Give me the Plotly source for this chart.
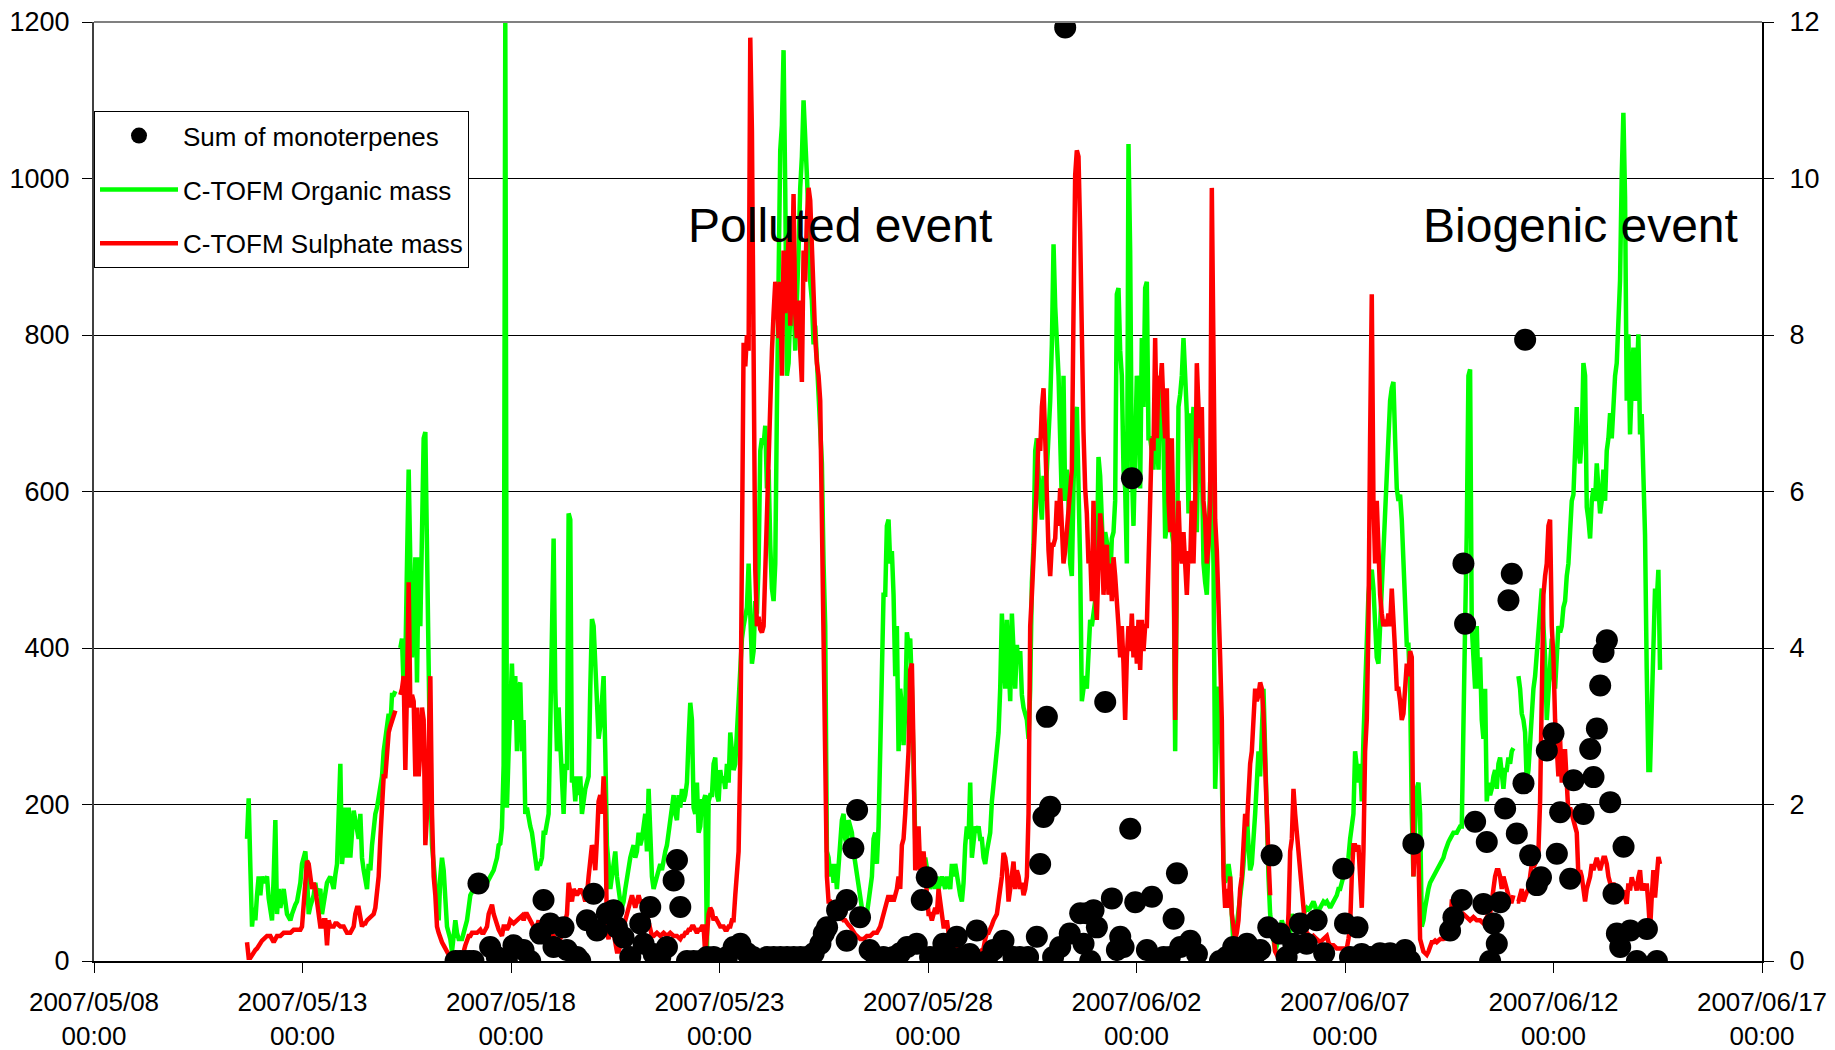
import pandas as pd
import plotly.graph_objects as go

# ---------------- data ----------------
# hourly-ish samples (one every ~57.5 min), split into consecutive segments
seg_start = ["2007-05-11 16:04", "2007-05-17 17:50", "2007-05-24 10:57",
             "2007-05-31 04:04", "2007-06-06 21:11", "2007-06-13 14:18"]
SAMPLE_SECONDS = 3453

organic_1 = [156, 208, 120, 44, 68, 52, 84, 108, 84, 108, 100, 104,
             108, 80, 68, 52, 108, 180, 60, 92, 68, 80, 92, 76,
             60, 56, 52, 60, 68, 72, 76, 90, 100, 124, 130, 140,
             108, 60, 70, 76, 84, 100, 84, 88, 92, 60, 76, 84,
             100, 104, 108, 100, 92, 110, 124, 188, 252, 124, 148, 196,
             132, 196, 132, 164, 192, 180, 164, 156, 188, 132, 116, 100,
             92, 124, 116, 148, 172, 188, 196, 212, 228, 236, 268, 284,
             308, 316, 300, 340, 340, 345, None, None, 400, 412, 348, 380,
             508, 628, 508, 388, 428, 516, 356, 516, 428, 564, 668, 676,
             492, 348, 228, 148, 124, 84, 68, 52, 108, 132, 116, 76,
             44, 36, 28, 12, 36, 52, 36, 28, 28, 28, 36, 44,
             52, 68, 84, 88, 92, 96, 100, 96, 92, 92, 92, 96,
             100, 104, 108, 112, 116, 124, 132, 148]
organic_2 = [150, 170, 250, 1200, 196, 268, 348, 380, 308, 364, 268, 348,
             356, 268, 308, 188, 196, 180, 172, 164, 148, 132, 116, 124,
             124, 132, 164, 164, 180, 188, 300, 428, 540, 348, 268, 324,
             268, 212, 188, 252, 244, 572, 564, 228, 236, 204, 236, 212,
             236, 188, 212, 220, 228, 236, 348, 437, 428, 380, 308, 284,
             300, 348, 364, 268, 148, 124, 92, 108, 132, 140, 108, 84,
             76, 68, 76, 92, 108, 116, 132, 140, 148, 132, 140, 164,
             148, 156, 172, 188, 140, 220, 164, 108, 92, 100, 108, 116,
             124, 116, 132, 140, 148, 164, 180, 188, 212, 188, 180, 212,
             196, 220, 204, 212, 228, 284, 330, 308, 196, 188, 228, 164,
             172, 204, 204, 212, 12, 204, 212, 212, 252, 260, 212, 204,
             244, 228, 236, 220, 252, 228, 292, 268, 244, 252, 292, 348,
             388, 412, 428, 444, 452, 508, 428, 380, 396, 460, 444, 508,
             652, 668, 660, 684, 604, 628, 532, 476, 460, 508, 708, 868]
organic_3 = [1036, 1068, 1164, 988, 748, 764, 828, 812, 844, 780, 828, 908,
             988, 1028, 1100, 1028, 1004, 948, 868, 844, 788, 812, 764, 732,
             668, 636, 508, 428, 140, 132, 108, 124, 100, 124, 92, 124,
             148, 180, 188, 156, 148, 180, 172, 164, 140, 124, 108, 92,
             76, 68, 60, 52, 60, 76, 92, 108, 156, 164, 124, 172,
             268, 388, 468, 468, 556, 564, 508, 524, 468, 364, 428, 268,
             348, 324, 276, 316, 420, 404, 412, 348, 228, 156, 148, 124,
             140, 124, 108, 132, 116, 108, 92, 100, 108, 92, 108, 92,
             100, 108, 100, 92, 108, 100, 92, 124, 108, 124, 108, 92,
             84, 76, 100, 148, 172, 156, 228, 132, 156, 172, 164, 172,
             156, 156, 132, 124, 140, 156, 164, 204, 228, 252, 268, 292,
             348, 444, 388, 348, 436, 388, 332, 444, 388, 348, 404, 380,
             396, 340, 324, 316, 308, 284, 348, 484, 532, 652, 668, 620,
             588, 564, 620, 588, 628, 668, 716, 788, 916, 836, 788, 748]
organic_4 = [668, 588, 748, 588, 628, 588, 508, 492, 604, 700, 708, 612,
             508, 332, 348, 364, 348, 388, 436, 428, 444, 460, 508, 644,
             620, 572, 508, 548, 532, 524, 484, 540, 548, 588, 852, 860,
             780, 748, 628, 604, 508, 1044, 908, 628, 556, 668, 748, 732,
             604, 796, 708, 860, 868, 668, 668, 652, 628, 708, 668, 628,
             748, 716, 668, 540, 556, 668, 564, 548, 532, 268, 508, 708,
             724, 748, 796, 748, 700, 572, 700, 668, 708, 604, 548, 668,
             628, 644, 508, 484, 468, 532, 612, 620, 508, 220, 268, 348,
             348, 180, 124, 100, 108, 124, 108, 60, 20, 28, 44, 68,
             76, 100, 124, 172, 188, 148, 116, 124, 148, 188, 228, 268,
             236, 308, 348, 268, 156, 108, 60, 44, 28, 12, 20, 28,
             36, 52, 44, 28, 44, 52, 36, 60, 52, 44, 52, 60,
             52, 44, 60, 64, 68, 66, 68, 72, 76, 70, 60, 64,
             68, 72, 76, 74, 76, 72, 68, 72, 76, 80, 84, 92]
organic_5 = [92, 100, 108, 116, 124, 132, 156, 172, 188, 268, 252, 228,
             252, 204, 284, 348, 388, 468, 492, 500, 476, 428, 388, 380,
             428, 492, 548, 588, 652, 684, 716, 732, 740, 668, 604, 588,
             596, 564, 508, 444, 404, 404, 348, 188, 108, 172, 220, 228,
             188, 44, 52, 68, 84, 92, 100, 104, 108, 112, 116, 120,
             124, 128, 132, 140, 148, 152, 156, 160, 164, 164, 164, 168,
             172, 172, 268, 428, 548, 748, 756, 428, 388, 348, 428, 348,
             388, 308, 284, 348, 204, 228, 212, 220, 236, 244, 220, 252,
             260, 236, 220, 244, 244, 260, 252, 268, 272, None, None, 364,
             348, 316, 308, 292, 228, 244, 284, 332, 348, 364, 388, 412,
             452, 476, 428, 388, 308, 348, 380, 412, 364, 348, 388, 428,
             420, 428, 452, 460, 492, 508, 548, 588, 596, 652, 708, 652,
             636, 668, 764, 748, 580, 564, 540, 588, 604, 588, 636, 604,
             572, 588, 628, 588, 652, 668, 700, 668, 716, 748, 764, 828]
organic_6 = [870, 1003, 1084, 977, 716, 801, 673, 733, 784, 716, 741, 801,
             673, 699, 613, 544, 373, 244, 244, 330, 416, 476, 459, 500, 372]

sulphate_1 = [24, 4, 4, 8, 12, 14, 16, 20, 24, 26, 28, 30,
              32, 32, 32, 28, 24, 28, 32, 32, 32, 34, 36, 36,
              36, 36, 36, 38, 40, 40, 40, 40, 40, 44, 76, 92,
              128, 124, 108, 92, 100, 92, 76, 60, 44, 44, 52, 52,
              20, 52, 44, 44, 44, 48, 48, 46, 44, 44, 44, 40,
              36, 36, 36, 40, 44, 60, 68, 68, 52, 44, 48, 48,
              52, 54, 56, 58, 60, 68, 84, 108, 156, 204, 236, 236,
              268, 292, 300, 308, 316, 320, None, None, 340, 348, 364, 244,
              348, 484, 324, 340, 332, 236, 324, 236, 268, 324, 308, 148,
              188, 268, 364, 188, 108, 84, 44, 36, 28, 24, 20, 16,
              12, 8, 4, 4, 4, 6, 8, 8, 8, 10, 12, 20,
              28, 32, 32, 36, 36, 36, 36, 38, 40, 36, 36, 40,
              44, 60, 68, 72, 60, 52, 44, 40]
sulphate_2 = [36, 32, 44, 44, 40, 44, 52, 50, 48, 50, 52, 54,
              56, 58, 52, 60, 60, 56, 52, 48, 44, 44, 44, 52,
              32, 28, 28, 28, 28, 28, 28, 32, 32, 28, 28, 28,
              28, 36, 44, 52, 60, 100, 84, 76, 92, 88, 84, 88,
              92, 88, 84, 76, 84, 108, 124, 148, 140, 116, 156, 204,
              212, 188, 236, 188, 36, 28, 44, 60, 36, 20, 12, 12,
              20, 36, 44, 52, 60, 68, 76, 84, 76, 68, 76, 84,
              76, 76, 76, 68, 60, 52, 44, 32, 32, 34, 36, 34,
              32, 34, 36, 34, 32, 34, 36, 34, 32, 32, 32, 30,
              28, 32, 32, 36, 36, 40, 40, 44, 44, 40, 36, 40,
              40, 44, 44, 8, 44, 60, 68, 64, 52, 56, 52, 48,
              44, 44, 44, 40, 40, 44, 44, 52, 52, 84, 108, 140,
              260, 620, 790, 760, 800, 780, 1180, 1060, 748, 500, 428, 440,
              424, 420, 428, 508, 588, 668, 748, 780, 828, 868, 852, 796]
sulphate_3 = [868, 748, 908, 828, 868, 924, 812, 860, 980, 828, 796, 844,
              780, 740, 908, 868, 948, 988, 972, 908, 844, 796, 764, 748,
              716, 548, 428, 188, 108, 76, 76, 68, 60, 52, 68, 60,
              52, 56, 52, 52, 48, 46, 44, 40, 36, 34, 32, 30,
              28, 28, 28, 30, 32, 32, 32, 34, 36, 36, 36, 40,
              44, 52, 60, 68, 76, 84, 76, 84, 76, 84, 92, 108,
              92, 148, 156, 188, 228, 268, 372, 380, 268, 116, 124, 172,
              116, 124, 140, 108, 76, 60, 60, 52, 60, 68, 60, 92,
              76, 60, 44, 44, 52, 36, 32, 28, 20, 18, 16, 16,
              16, 16, 16, 14, 12, 12, 12, 12, 12, 12, 12, 12,
              12, 14, 16, 28, 36, 36, 40, 46, 52, 56, 60, 76,
              92, 108, 138, 132, 116, 76, 92, 108, 127, 92, 116, 108,
              92, 100, 84, 92, 108, 188, 428, 468, 508, 548, 612, 668,
              652, 708, 732, 668, 564, 524, 492, 532, 532, 540, 588, 556]
sulphate_4 = [604, 548, 508, 524, 548, 572, 588, 628, 828, 1004, 1036, 1028,
              932, 748, 676, 604, 572, 508, 524, 460, 588, 468, 436, 508,
              572, 548, 468, 508, 532, 468, 508, 460, 516, 492, 468, 428,
              388, 428, 380, 308, 388, 428, 396, 444, 388, 428, 380, 436,
              372, 436, 396, 428, 428, 508, 588, 668, 652, 796, 668, 748,
              732, 764, 708, 668, 732, 588, 548, 668, 548, 308, 508, 588,
              524, 508, 548, 508, 468, 524, 508, 588, 508, 588, 764, 708,
              668, 708, 588, 564, 508, 532, 588, 988, 676, 564, 524, 468,
              388, 308, 108, 68, 92, 68, 108, 60, 44, 28, 36, 52,
              92, 108, 148, 188, 172, 220, 252, 268, 308, 348, 332, 340,
              356, 348, 316, 268, 188, 132, 84, None, 36, 12, 8, 10,
              12, 12, 12, 16, 20, 60, 140, 156, 220, 188, 164, 140,
              108, 76, 60, 44, 36, 34, 28, 30, 32, 30, 28, 26,
              24, 26, 28, 30, 32, 24, 20, 20, 20, 18, 16, 16]
sulphate_5 = [16, 16, 16, 16, 16, 28, 44, 108, 148, 148, 140, 148,
              108, 68, 140, 268, 308, 428, 668, 852, 588, 508, 588, 524,
              468, 444, 428, 436, 428, 444, 428, 476, 444, 396, 348, 348,
              332, 308, 316, 348, 380, 364, 396, 388, 108, 148, 156, 140,
              28, 20, 12, 10, 8, 12, 20, 24, 24, 26, 24, 26,
              28, 28, 28, 30, 28, 40, 44, 76, 76, 68, 60, 60,
              60, 58, 60, 58, 56, 54, 52, 54, 56, 54, 52, 52,
              52, 50, 48, 52, 56, 60, 60, 84, 92, 108, 116, 116,
              108, 92, 108, 100, 92, 84, 76, 76, 84, None, 76, 76,
              84, 92, 76, 84, 88, 92, 108, 124, 120, 124, 132, 140,
              204, 348, 468, 492, 508, 556, 564, 428, 388, 308, 268, 236,
              284, 228, 268, 268, 228, 188, 196, 188, 180, 172, 164, 108,
              116, 108, 92, 76, 92, 100, 108, 124, 116, 124, 132, 124,
              116, 124, 132, 132, 124, 108, 100, 92, 100, 92, 92, 84]
sulphate_6 = [86, 86, 90, 81, 73, 99, 90, 107, 99, 99, 90, 107,
              116, 90, 99, 90, 99, 73, 39, 81, 116, 81, 107, 133, 124]

# Sum of monoterpenes: sample time (days after 2007-05-08 00:00) and value (right axis)
mono_day = [8.67, 8.78, 8.9, 9.0, 9.1, 9.22, 9.5, 9.66, 9.9, 10.06, 10.3, 10.46,
            10.7, 10.78, 10.94, 11.02, 11.26, 11.34, 11.58, 11.66, 11.82, 11.98,
            12.06, 12.30, 12.46, 12.54, 12.7, 12.86, 13.1, 13.18, 13.34, 13.42,
            13.58, 13.74, 13.9, 13.98, 14.06, 14.22, 14.38, 14.54, 14.7, 14.86,
            14.98, 15.1, 15.18, 15.34, 15.5, 15.66, 15.8, 15.9,
            16.14, 16.3, 16.46, 16.62, 16.78, 16.94, 17.1, 17.26, 17.42, 17.5,
            17.58, 17.82, 18.05, 18.05, 18.21, 18.3, 18.37, 18.6, 18.77, 18.93,
            19.17, 19.33, 19.5, 19.73, 19.85, 19.97, 20.05, 20.21, 20.37, 20.53,
            20.69, 20.85, 21.0, 21.17, 21.41, 21.57, 21.81, 22.05, 22.2, 22.4,
            22.61, 22.69, 22.77, 22.85, 22.93, 23.0, 23.17, 23.29, 23.4, 23.65,
            23.73, 23.8, 23.89, 23.97, 24.05, 24.25, 24.41, 24.53, 24.61, 24.69,
            24.85, 24.89, 24.97, 25.25, 25.37, 25.49, 25.65, 25.8, 25.89, 25.97,
            26.05, 26.29, 26.45, 27.0, 27.16, 27.32, 27.48, 27.65, 27.81, 27.97,
            28.16, 28.24, 28.44, 28.6, 28.76, 28.92, 29.08, 29.32, 29.5, 29.96,
            30.0, 30.12, 30.3, 30.4, 30.6, 30.84, 31.08, 31.3, 31.44, 31.56,
            31.64, 32.52, 32.6, 32.8, 32.84, 32.88, 33.12, 33.32, 33.4, 33.48,
            33.56, 33.64, 33.72, 33.84, 33.92, 34.0, 34.12, 34.28, 34.32, 34.44,
            34.6, 34.7, 34.84, 35.0, 35.08, 35.16, 35.4, 35.48, 35.72, 35.88,
            35.96, 36.04, 36.12, 36.2, 36.28, 36.36, 36.44, 36.52, 36.6, 36.68,
            36.84, 37.0, 37.24, 37.48]
mono_val = [0, 0, 0, 0, 0, 0.99, 0.18, 0.05, 0, 0.2, 0.14, 0,
            0.35, 0.78, 0.48, 0.18, 0.43, 0.14, 0.05, 0, 0.52, 0.86,
            0.39, 0.61, 0.65, 0.43, 0.3, 0.05, 0.48, 0.22, 0.69, 0.09,
            0.05, 0.18, 1.03, 1.29, 0.69, 0, 0, 0, 0.05, 0.05,
            0, 0, 0.05, 0.18, 0.22, 0.1, 0.05, 0,
            0.05, 0.05, 0.05, 0.05, 0.05, 0.05, 0.05, 0.1, 0.22, 0.35,
            0.43, 0.65, 0.78, 0.26, 1.44, 1.93, 0.56, 0.14, 0, 0.05,
            0.05, 0.1, 0.18, 0.22, 0.78, 1.07, 0.05, 0.05, 0.22, 0.05,
            0.31, 0.05, 0.09, 0.39, 0, 0.14, 0.26, 0.05, 0.05, 0.05,
            0.31, 1.24, 1.84, 3.12, 1.97, 0.05, 0.18, 11.93, 0.35, 0.61,
            0.22, 0.61, 0, 0.65, 0.43, 3.31, 0.8, 0.14, 0.31, 0.18,
            1.69, 6.17, 0.75, 0.14, 0.82, 0, 0.05, 0.05, 0.54, 1.12,
            0.18, 0.26, 0.09, 0, 0.05, 0.18, 0.05, 0.22, 0.05, 0.14,
            0.43, 1.35, 0.35, 0.05, 0.22, 0.48, 0.22, 0.52, 0.1, 1.18,
            0.48, 0.05, 0.43, 0.09, 0.05, 0.1, 0.1, 0.05, 0.14, 0,
            1.5, 0.39, 0.56, 0.78, 5.08, 4.31, 1.78, 0.73, 1.52, 0,
            0.48, 0.22, 0.75, 1.95, 4.61, 4.95, 1.63, 2.27, 7.94, 1.35,
            0.97, 1.07, 2.69, 2.91, 1.37, 1.9, 1.05, 2.31, 1.88, 2.71,
            2.35, 2.97, 3.52, 3.95, 4.1, 2.03, 0.86, 0.35, 0.18, 1.46,
            0.39, 0, 0.41, 0]

tick_dates = ["2007-05-08", "2007-05-13", "2007-05-18", "2007-05-23", "2007-05-28",
              "2007-06-02", "2007-06-07", "2007-06-12", "2007-06-17"]
tick_text = ["2007/05/08<br>00:00", "2007/05/13<br>00:00", "2007/05/18<br>00:00",
             "2007/05/23<br>00:00", "2007/05/28<br>00:00", "2007/06/02<br>00:00",
             "2007/06/07<br>00:00", "2007/06/12<br>00:00", "2007/06/17<br>00:00"]

# ---------------- build ----------------
organic_segs = [organic_1, organic_2, organic_3, organic_4, organic_5, organic_6]
sulphate_segs = [sulphate_1, sulphate_2, sulphate_3, sulphate_4, sulphate_5, sulphate_6]

t_org, v_org, t_sul, v_sul = [], [], [], []
for start, org, sul in zip(seg_start, organic_segs, sulphate_segs):
    step = pd.Timedelta(seconds=SAMPLE_SECONDS)
    t_org += list(pd.date_range(start=start, periods=len(org), freq=step))
    v_org += org
    t_sul += list(pd.date_range(start=start, periods=len(sul), freq=step))
    v_sul += sul

mono_t = [pd.Timestamp("2007-05-08") + pd.to_timedelta(d, unit="D") for d in mono_day]

FONT = "Liberation Sans, Arial, sans-serif"

fig = go.Figure()
fig.add_trace(go.Scatter(
    x=mono_t, y=mono_val, yaxis="y2", mode="markers", name="Sum of monoterpenes",
    marker=dict(color="black", size=22, line=dict(width=0)), legendgroup="a"))
fig.add_trace(go.Scatter(
    x=t_org, y=v_org, mode="lines", name="C-TOFM Organic mass",
    line=dict(color="#00FF00", width=4.5), connectgaps=False, legendgroup="b"))
fig.add_trace(go.Scatter(
    x=t_sul, y=v_sul, mode="lines", name="C-TOFM Sulphate mass",
    line=dict(color="#FF0000", width=4.5), connectgaps=False, legendgroup="c"))

fig.update_layout(
    width=1835, height=1050,
    margin=dict(l=94, r=73, t=22, b=89, autoexpand=False),
    paper_bgcolor="white", plot_bgcolor="white",
    font=dict(family=FONT, size=26, color="black"),
    showlegend=True,
    legend=dict(x=0, y=0.905, xanchor="left", yanchor="top",
                bgcolor="white", bordercolor="black", borderwidth=1,
                font=dict(family=FONT, size=26, color="black"),
                traceorder="grouped", tracegroupgap=17, itemsizing="trace",
                itemwidth=78),
    xaxis=dict(type="date", range=["2007-05-08", "2007-06-17"],
               tickvals=tick_dates, ticktext=tick_text, automargin=False,
               showgrid=False, zeroline=False,
               showline=True, linecolor="black", linewidth=2,
               ticks="outside", ticklen=10, tickwidth=1, tickcolor="black",
               ticklabelstandoff=7,
               tickfont=dict(family=FONT, size=26, color="black")),
    yaxis=dict(range=[0, 1200], dtick=200, tick0=0, automargin=False,
               showgrid=True, gridcolor="black", gridwidth=1, zeroline=False,
               showline=True, linecolor="#404040", linewidth=2,
               ticks="outside", ticklen=10, tickcolor="black",
               ticklabelstandoff=7,
               tickfont=dict(family=FONT, size=27, color="black")),
    yaxis2=dict(range=[0, 12], dtick=2, tick0=0, overlaying="y", side="right",
                automargin=False, showgrid=False, zeroline=False,
                showline=True, linecolor="black", linewidth=2,
                ticks="outside", ticklen=10, tickcolor="black",
                ticklabelstandoff=10,
                tickfont=dict(family=FONT, size=27, color="black")),
    shapes=[dict(type="line", xref="paper", yref="paper", x0=0, x1=1, y0=1, y1=1,
                 line=dict(color="#808080", width=2))],
    annotations=[
        dict(text="Polluted event", xref="paper", yref="paper", x=0.447, y=0.783,
             xanchor="center", yanchor="middle", showarrow=False,
             font=dict(family=FONT, size=48, color="black")),
        dict(text="Biogenic event", xref="paper", yref="paper", x=0.891, y=0.783,
             xanchor="center", yanchor="middle", showarrow=False,
             font=dict(family=FONT, size=48, color="black")),
    ],
)

fig.write_html("out.html")
